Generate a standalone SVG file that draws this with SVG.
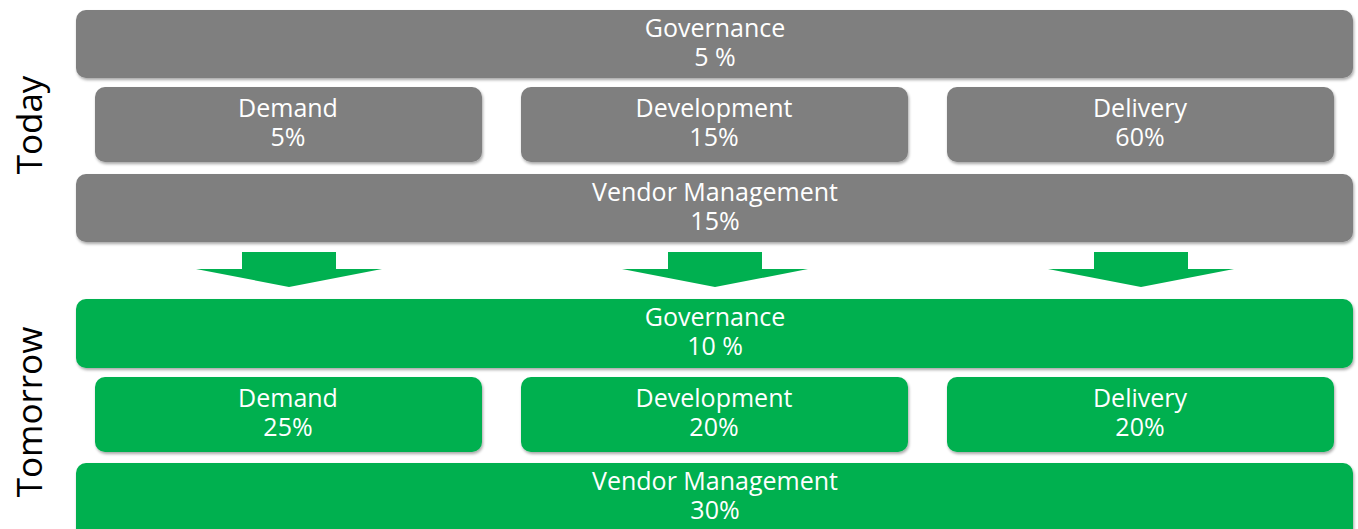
<svg xmlns="http://www.w3.org/2000/svg" width="1358" height="529" viewBox="0 0 1358 529">
<style>
.g{fill:#7f7f7f}
.n{fill:#00b050}
.b{filter:url(#sh)}
.t{font-family:"Open Sans","Noto Sans",sans-serif;font-size:25px;fill:#fff;text-anchor:middle}
.s{font-family:"Open Sans","Noto Sans",sans-serif;font-size:35px;fill:#000;text-anchor:middle}
</style>
<defs>
<filter id="sh" x="-5%" y="-20%" width="110%" height="150%">
<feGaussianBlur in="SourceAlpha" stdDeviation="1.5"/>
<feOffset dx="1" dy="2"/>
<feComponentTransfer><feFuncA type="linear" slope="0.35"/></feComponentTransfer>
<feMerge><feMergeNode/><feMergeNode in="SourceGraphic"/></feMerge>
</filter>
<polygon id="arr" points="-47,0 47,0 47,17 93,17 0,35 -93,17 -47,17" fill="#00b050"/>
</defs>
<g id="label-today"><text class="s" transform="translate(42,125) rotate(-90)">Today</text></g>
<g id="label-tomorrow"><text class="s" transform="translate(42,412) rotate(-90)">Tomorrow</text></g>
<g id="today-governance"><rect class="g b" x="76" y="10" width="1277" height="68" rx="10"/><text class="t" x="715" y="37">Governance</text><text class="t" x="715" y="66">5 %</text></g>
<g id="today-demand"><rect class="g b" x="95" y="87" width="387" height="75" rx="10"/><text class="t" x="288" y="117">Demand</text><text class="t" x="288" y="146">5%</text></g>
<g id="today-development"><rect class="g b" x="521" y="87" width="387" height="75" rx="10"/><text class="t" x="714" y="117">Development</text><text class="t" x="714" y="146">15%</text></g>
<g id="today-delivery"><rect class="g b" x="947" y="87" width="387" height="75" rx="10"/><text class="t" x="1140" y="117">Delivery</text><text class="t" x="1140" y="146">60%</text></g>
<g id="today-vendor"><rect class="g b" x="76" y="174" width="1277" height="68" rx="10"/><text class="t" x="715" y="201">Vendor Management</text><text class="t" x="715" y="230">15%</text></g>
<g id="connectors">
<use href="#arr" x="289" y="252"/>
<use href="#arr" x="715" y="252"/>
<use href="#arr" x="1141" y="252"/>
</g>
<g id="tomorrow-governance"><rect class="n b" x="76" y="299" width="1277" height="69" rx="10"/><text class="t" x="715" y="326">Governance</text><text class="t" x="715" y="355">10 %</text></g>
<g id="tomorrow-demand"><rect class="n b" x="95" y="377" width="387" height="75" rx="10"/><text class="t" x="288" y="407">Demand</text><text class="t" x="288" y="436">25%</text></g>
<g id="tomorrow-development"><rect class="n b" x="521" y="377" width="387" height="75" rx="10"/><text class="t" x="714" y="407">Development</text><text class="t" x="714" y="436">20%</text></g>
<g id="tomorrow-delivery"><rect class="n b" x="947" y="377" width="387" height="75" rx="10"/><text class="t" x="1140" y="407">Delivery</text><text class="t" x="1140" y="436">20%</text></g>
<g id="tomorrow-vendor"><rect class="n b" x="76" y="463" width="1277" height="80" rx="10"/><text class="t" x="715" y="490">Vendor Management</text><text class="t" x="715" y="519">30%</text></g>
</svg>
